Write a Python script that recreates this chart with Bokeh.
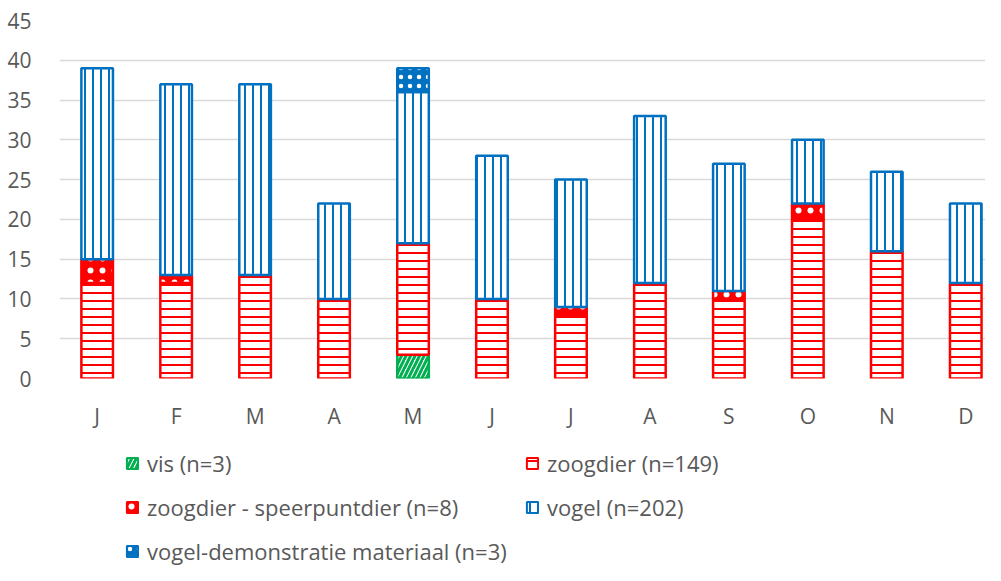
import numpy as np
from bokeh.plotting import figure
from bokeh.layouts import column
from bokeh.models import (ColumnDataSource, Range1d, FixedTicker, Legend, LegendItem)
from bokeh.embed import file_html
from bokeh.resources import INLINE

months = ["J", "F", "M", "A", "M", "J", "J", "A", "S", "O", "N", "D"]
vis = [0, 0, 0, 0, 3, 0, 0, 0, 0, 0, 0, 0]
zoogdier = [12, 12, 13, 10, 14, 10, 8, 12, 10, 20, 16, 12]
speerpuntdier = [3, 1, 0, 0, 0, 0, 1, 0, 1, 2, 0, 0]
vogel = [24, 24, 24, 12, 19, 18, 16, 21, 16, 8, 10, 10]
demo = [0, 0, 0, 0, 3, 0, 0, 0, 0, 0, 0, 0]

series_names = ["vis (n=3)", "zoogdier (n=149)", "zoogdier - speerpuntdier (n=8)",
                "vogel (n=202)", "vogel-demonstratie materiaal (n=3)"]
series_values = [vis, zoogdier, speerpuntdier, vogel, demo]

RED = "#FF0000"
BLUE = "#0070C0"
GREEN = "#00B050"
styles = [
    dict(fill_color="white", line_color=GREEN, hatch_pattern="right_diagonal_line",
         hatch_color=GREEN, hatch_scale=9, hatch_weight=3),
    dict(fill_color="white", line_color=RED, hatch_pattern="horizontal_line",
         hatch_color=RED, hatch_scale=8, hatch_weight=2),
    dict(fill_color=RED, line_color=RED, hatch_pattern="dot",
         hatch_color="white", hatch_scale=12, hatch_weight=1),
    dict(fill_color="white", line_color=BLUE, hatch_pattern="vertical_line",
         hatch_color=BLUE, hatch_scale=8, hatch_weight=2),
    dict(fill_color=BLUE, line_color=BLUE, hatch_pattern="dot",
         hatch_color="white", hatch_scale=9, hatch_weight=6),
]

FONT = "Open Sans"
TXT = "#595959"

p = figure(width=985, height=432, output_backend="svg", toolbar_location=None,
           x_range=Range1d(-0.477, 11.25), y_range=Range1d(0, 45),
           min_border_left=59, min_border_right=0, min_border_top=20,
           min_border_bottom=54)
p.outline_line_color = None

x = np.arange(len(months))
base = np.zeros(len(months))
for name, vals, st in zip(series_names, series_values, styles):
    vals = np.array(vals, dtype=float)
    mask = vals > 0
    src = ColumnDataSource(dict(x=x[mask], bottom=base[mask], top=(base + vals)[mask]))
    p.vbar(x="x", bottom="bottom", top="top", width=0.4, source=src,
           line_width=2.5, **st)
    base = base + vals

p.yaxis.ticker = FixedTicker(ticks=list(range(0, 46, 5)))
p.xaxis.ticker = FixedTicker(ticks=list(range(12)))
p.xaxis.major_label_overrides = {i: m for i, m in enumerate(months)}
for ax in (p.xaxis, p.yaxis):
    ax.axis_line_color = None
    ax.major_tick_line_color = None
    ax.minor_tick_line_color = None
    ax.major_label_text_font = FONT
    ax.major_label_text_font_size = "21px"
    ax.major_label_text_color = TXT
p.yaxis.major_label_standoff = 22
p.xaxis.major_label_standoff = 17
p.xgrid.grid_line_color = None
p.ygrid.grid_line_color = "#D9D9D9"
p.ygrid.grid_line_width = 1.5

# legend panel (its frame is aligned with the chart frame by the column layout)
p2 = figure(width=985, height=133, output_backend="svg", toolbar_location=None,
            x_range=Range1d(0, 1), y_range=Range1d(0, 1), min_border=0)
p2.outline_line_color = None
p2.axis.visible = False
p2.grid.visible = False
items = []
for name, st in zip(series_names, styles):
    # zero-size sample glyph used only for the legend swatch
    r = p2.vbar(x=[0.99], bottom=[0.99], top=[0.99], width=0, line_width=2, **st)
    items.append(LegendItem(label=name, renderers=[r]))

common = dict(label_text_font=FONT, label_text_font_size="22px",
              label_text_color=TXT, glyph_width=14, glyph_height=14,
              label_height=30, spacing=14, label_standoff=8,
              padding=0, margin=0, border_line_color=None,
              background_fill_alpha=0)
legA = Legend(items=[items[0], items[2], items[4]], location=(66, -1), **common)
legB = Legend(items=[items[1], items[3]], location=(466, 43), **common)
p2.add_layout(legA, "center")
p2.add_layout(legB, "center")

layout = column(p, p2, spacing=0)
open("out.html", "w").write(file_html(layout, INLINE))
